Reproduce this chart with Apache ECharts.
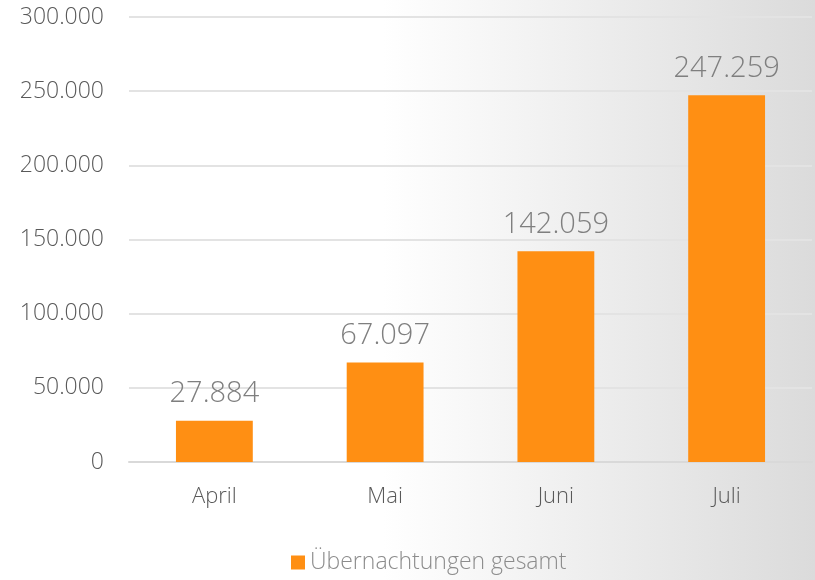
<!DOCTYPE html>
<html>
<head>
<meta charset="utf-8">
<script src="https://cdn.jsdelivr.net/npm/echarts@6/dist/echarts.min.js"></script>
<style>
  html, body { margin: 0; padding: 0; }
  #chart { width: 815px; height: 580px; }
</style>
</head>
<body>
<div id="chart"></div>
<script>
const months = ['April', 'Mai', 'Juni', 'Juli'];
const overnightStays = [27884, 67097, 142059, 247259];
const seriesName = 'Übernachtungen gesamt';

// deutsches Zahlenformat mit Punkt als Tausendertrennzeichen
function fmt(v) {
  return String(v).replace(/\B(?=(\d{3})+(?!\d))/g, '.');
}

const chart = echarts.init(document.getElementById('chart'));
const font = '"Open Sans", sans-serif';

chart.setOption({
  backgroundColor: new echarts.graphic.LinearGradient(0, 0, 1, 0, [
    { offset: 0, color: '#ffffff' },
    { offset: 0.47, color: '#ffffff' },
    { offset: 1, color: '#dbdbdb' }
  ]),
  animation: false,
  grid: { left: 129, right: 3, top: 17, bottom: 118 },
  legend: {
    top: 551,
    left: 291,
    padding: 0,
    itemWidth: 14,
    itemHeight: 14,
    itemGap: 8,
    icon: 'rect',
    textStyle: { color: '#8c8c8c', fontSize: 23, fontFamily: font, fontWeight: 300 },
    data: [seriesName]
  },
  xAxis: {
    type: 'category',
    data: months,
    axisTick: { show: false },
    axisLine: { lineStyle: { color: '#d9d9d9', width: 2 } },
    axisLabel: { color: '#595959', fontSize: 22, fontFamily: font, fontWeight: 300, margin: 24 }
  },
  yAxis: {
    type: 'value',
    min: 0,
    max: 300000,
    interval: 50000,
    axisLine: { show: false },
    axisTick: { show: false },
    splitLine: { lineStyle: { color: '#e3e3e3', width: 2 } },
    axisLabel: {
      color: '#595959', fontSize: 23, fontFamily: font, fontWeight: 300, margin: 25,
      formatter: fmt
    }
  },
  series: [{
    name: seriesName,
    type: 'bar',
    data: overnightStays,
    barWidth: '45%',
    itemStyle: { color: '#ff8f13' },
    label: {
      show: true,
      position: 'top',
      distance: 12,
      color: '#7f7f7f',
      fontSize: 29,
      fontFamily: font,
      fontWeight: 300,
      formatter: p => fmt(p.value)
    }
  }]
});
</script>
</body>
</html>
